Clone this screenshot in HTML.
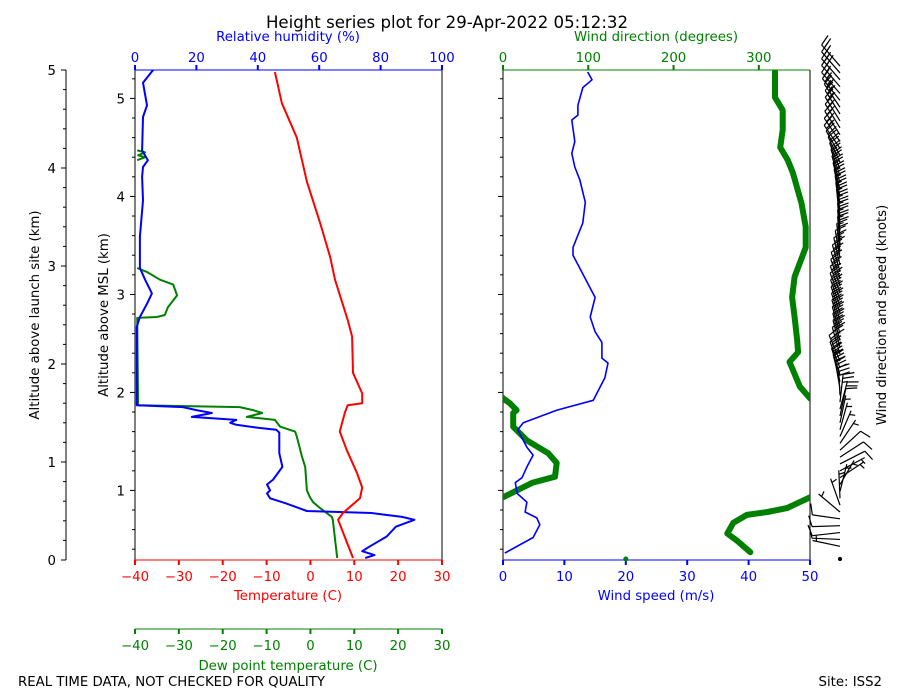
<!DOCTYPE html>
<html><head><meta charset="utf-8">
<style>
body{margin:0;background:#fff;}
svg{display:block;font-family:"DejaVu Sans","Liberation Sans",sans-serif;}
text{font-size:13.3px;}
</style></head>
<body>
<svg id="chart" width="900" height="700" viewBox="0 0 900 700">
<defs>
<clipPath id="clipL"><rect x="135" y="70" width="307" height="490"/></clipPath>
<clipPath id="clipR"><rect x="503" y="70" width="307" height="490"/></clipPath>
</defs>
<text x="447" y="28" text-anchor="middle" style="font-size:16.6px">Height series plot for 29-Apr-2022 05:12:32</text>
<text x="288" y="41" text-anchor="middle" fill="blue">Relative humidity (%)</text>
<text x="656" y="41" text-anchor="middle" fill="green">Wind direction (degrees)</text>
<text x="288" y="600" text-anchor="middle" fill="red">Temperature (C)</text>
<text x="656" y="600" text-anchor="middle" fill="blue">Wind speed (m/s)</text>
<text x="288" y="670" text-anchor="middle" fill="green">Dew point temperature (C)</text>
<text x="18" y="686">REAL TIME DATA, NOT CHECKED FOR QUALITY</text>
<text x="882" y="686" text-anchor="end">Site: ISS2</text>
<text transform="translate(39,315) rotate(-90)" text-anchor="middle">Altitude above launch site (km)</text>
<text transform="translate(108,315) rotate(-90)" text-anchor="middle">Altitude above MSL (km)</text>
<text transform="translate(886,315) rotate(-90)" text-anchor="middle">Wind direction and speed (knots)</text>
<g id="g"></g>
</svg>
<script>
// ---- data (heights in km above launch site) ----
const tempH=[0.02,0.41,0.48,0.63,0.74,0.89,1.12,1.31,1.43,1.51,1.58,1.60,1.70,1.91,2.28,2.45,2.86,3.09,3.44,3.86,4.31,4.66,4.98];
const tempV=[9.7,6.3,7.4,11.3,11.8,10.6,8.3,6.7,7.4,7.9,8.5,11.8,11.8,9.7,9.5,8.5,5.6,4.5,2.2,-0.8,-3.1,-6.5,-8.1];
const rhH=[0.02,0.05,0.09,0.13,0.24,0.34,0.41,0.44,0.48,0.50,0.58,0.63,0.68,0.71,0.77,0.82,0.95,1.09,1.22,1.30,1.33,1.35,1.38,1.40,1.43,1.46,1.50,1.53,1.56,1.58,2.38,2.48,2.62,2.72,2.86,2.98,3.30,3.67,3.91,4.01,4.08,4.18,4.52,4.64,4.87,5.0];
const rhV=[75,78,74,76,82,85,91,87,77,56,49,44,43,44,43,45,48,47,47,47,46,40,33,31,33,18.5,25,20,15.6,0.6,0.6,1.6,4,5.5,3.3,1.6,1.6,2.6,2.3,2.6,4.2,2.3,2.6,3.9,2.6,5.9];
const dewH=[0.02,0.41,0.44,0.53,0.59,0.64,0.71,0.95,1.05,1.26,1.31,1.36,1.43,1.46,1.50,1.53,1.56,1.58,2.47,2.48,2.50,2.58,2.70,2.81,2.86,2.94,2.98,null,4.08,4.11,4.13,4.16,4.18];
const dewV=[6.1,5.1,4.9,2.2,0.6,-0.1,-0.8,-1.2,-1.9,-3.1,-3.5,-6.9,-8.1,-14.5,-11.0,-13.1,-16.1,-39.3,-39.5,-35,-33.2,-32.5,-30.4,-31.3,-34.3,-37.3,-39.5,null,-39.5,-37.7,-39.3,-37.7,-39.5];
const spdH=[0.07,0.23,0.36,0.43,0.49,0.59,0.68,0.79,0.84,0.95,1.07,1.15,1.33,1.40,1.53,1.63,1.86,2.01,2.06,2.22,2.33,2.48,2.68,3.11,3.19,3.44,3.65,3.88,4.01,4.15,4.27,4.49,4.54,4.64,4.82,4.90,4.98];
const spdV=[0.3,4.9,6.0,5.5,3.6,3.9,2.3,2.0,3.1,3.9,4.9,3.9,2.4,3.3,8.8,14.7,16.6,17.1,16.1,16.1,15.0,14.2,15.0,11.4,11.4,13.0,13.4,12.5,11.7,11.2,11.7,11.2,12.2,12.2,13.0,14.5,13.8];
// direction unwrapped (values above 360 wrap past north)
const dirH=[0.08,0.20,0.27,0.38,0.46,0.49,0.53,0.64,0.79,0.85,0.99,1.09,1.22,1.36,1.50,1.53,1.60,1.65,1.77,1.94,2.02,2.12,2.24,2.48,2.68,2.89,3.19,3.40,3.64,3.95,4.08,4.21,4.39,4.59,4.72,4.98];
const dirV=[290,274,263,270,286,310,333,360,395,421,423,413,388,372,372,376,368,360,348,340,336,346,345,342,339,342,355,355,350,340,334,325,328,328,319,319];
const tempTicks=[-40,-30,-20,-10,0,10,20,30];
const rhTicks=[0,20,40,60,80,100];
const spdTicks=[0,10,20,30,40,50];
const dirTicks=[0,100,200,300];
const aglTicks=[0,1,2,3,4,5];
const mslTicks=[1,2,3,4,5];
const mslOffset=0.29;

// ---- scales ----
const yA=h=>560-98*h;
const xT=t=>135+(t+40)*307/70;
const xRH=r=>135+r*3.07;
const xS=s=>503+s*6.14;
const xD=d=>503+d*307/360;

const NS='http://www.w3.org/2000/svg';
const G=document.getElementById('g');
function mk(tag,attrs,parent){const e=document.createElementNS(NS,tag);for(const k in attrs)e.setAttribute(k,attrs[k]);(parent||G).appendChild(e);return e;}
function pathD(H,V,fx,off){let d='',pen=false;for(let i=0;i<H.length;i++){if(H[i]===null||V[i]===null){pen=false;continue;}d+=(pen?'L':'M')+fx(V[i]+(off||0)).toFixed(1)+','+yA(H[i]).toFixed(1);pen=true;}return d;}

let e;
e=mk('line',{x1:66,y1:70,x2:66,y2:560,stroke:'#000','stroke-width':1});

e=mk('line',{x1:135,y1:70,x2:135,y2:560,stroke:'#000'});

e=mk('line',{x1:442,y1:70,x2:442,y2:560,stroke:'#000'});

e=mk('line',{x1:135,y1:70,x2:442,y2:70,stroke:'blue'});

e=mk('line',{x1:135,y1:560,x2:442,y2:560,stroke:'red'});

e=mk('line',{x1:135,y1:629,x2:442,y2:629,stroke:'green'});

e=mk('line',{x1:503,y1:70,x2:503,y2:560,stroke:'#000'});

e=mk('line',{x1:810,y1:70,x2:810,y2:560,stroke:'#000'});

e=mk('line',{x1:503,y1:70,x2:810,y2:70,stroke:'green'});

e=mk('line',{x1:503,y1:560,x2:810,y2:560,stroke:'blue'});


function hTicks(vals,fx,y,dir,color,name){for(const v of vals){const x=fx(v);
 const t=mk('line',{x1:x,y1:y,x2:x,y2:y+dir*5,stroke:color,'stroke-width':2});
 
 const l=mk('text',{x:x,y:dir>0?y+21:y-8,'text-anchor':'middle',fill:color});l.textContent=String(v).replace('-','\u2212');
 }}
hTicks(tempTicks,xT,560,1,'red','temperature');
hTicks(tempTicks,xT,629,1,'green','dewpoint');
hTicks(rhTicks,xRH,70,-1,'blue','rh');
hTicks(spdTicks,xS,560,1,'blue','wind-speed');
hTicks(dirTicks,xD,70,-1,'green','wind-direction');

for(const v of aglTicks){const y=yA(v);
 const t=mk('line',{x1:61,y1:y,x2:66,y2:y,stroke:'#000'});
 const l=mk('text',{x:56,y:y+5,'text-anchor':'end'});l.textContent=v;}
for(let k=1;k<25;k++){if(k%5===0)continue;const y=yA(k*0.2);
 const t=mk('line',{x1:63,y1:y,x2:66,y2:y,stroke:'#000'});}
for(const v of mslTicks){const y=yA(v-mslOffset);
 for(const x0 of [135,503]){const t=mk('line',{x1:x0-5,y1:y,x2:x0,y2:y,stroke:'#000'});}
 const l=mk('text',{x:125,y:y+5,'text-anchor':'end'});l.textContent=v;}
for(let k=2;k<27;k++){if(k%5===0)continue;const y=yA(k*0.2-mslOffset);if(y>560||y<70)continue;
 for(const x0 of [135,503]){const t=mk('line',{x1:x0-3,y1:y,x2:x0,y2:y,stroke:'#000'});}}

const gl=mk('g',{'clip-path':'url(#clipL)'});
e=mk('path',{d:pathD(dewH,dewV,xT),fill:'none',stroke:'green','stroke-width':2,'stroke-linejoin':'round'},gl);

e=mk('path',{d:pathD(rhH,rhV,xRH),fill:'none',stroke:'blue','stroke-width':2,'stroke-linejoin':'round'},gl);

e=mk('path',{d:pathD(tempH,tempV,xT),fill:'none',stroke:'red','stroke-width':2,'stroke-linejoin':'round'},gl);

const gr=mk('g',{'clip-path':'url(#clipR)'});
e=mk('path',{d:pathD(dirH,dirV,xD,0),fill:'none',stroke:'green','stroke-width':6,'stroke-linejoin':'round','stroke-linecap':'round'},gr);

e=mk('path',{d:pathD(dirH,dirV,xD,-360),fill:'none',stroke:'green','stroke-width':6,'stroke-linejoin':'round','stroke-linecap':'round'},gr);

e=mk('path',{d:pathD(spdH,spdV,xS),fill:'none',stroke:'blue','stroke-width':1.6,'stroke-linejoin':'round'},gr);

e=mk('circle',{cx:xS(20),cy:559,r:2.5,fill:'green'});


function interp(H,V,h){if(h<=H[0])return V[0];for(let i=1;i<H.length;i++){if(h<=H[i]){const f=(h-H[i-1])/(H[i]-H[i-1]);return V[i-1]+f*(V[i]-V[i-1]);}}return V[V.length-1];}
const gb=mk('g',{stroke:'#000','stroke-width':1.2,fill:'none'});
e=mk('circle',{cx:840,cy:559,r:1.5,fill:'#000'},gb);

for(let h=0.14;h<=5.1;h+=0.07){
 const kt=Math.round(interp(spdH,spdV,h)*1.944/5)*5;const d=interp(dirH,dirV,h)*Math.PI/180;
 const bx=840,by=yA(h),L=28;const ux=Math.sin(d),uy=-Math.cos(d);const px=-uy,py=ux;
 let s='M'+bx+','+by+'L'+(bx+ux*L).toFixed(1)+','+(by+uy*L).toFixed(1);
 let rem=kt,pos=L;
 while(rem>=50){s+='M'+(bx+ux*pos)+','+(by+uy*pos)+'L'+(bx+ux*(pos-4)+px*11)+','+(by+uy*(pos-4)+py*11)+'L'+(bx+ux*(pos-8))+','+(by+uy*(pos-8));pos-=10;rem-=50;}
 while(rem>=10){s+='M'+(bx+ux*pos).toFixed(1)+','+(by+uy*pos).toFixed(1)+'L'+(bx+ux*(pos+3)+px*11).toFixed(1)+','+(by+uy*(pos+3)+py*11).toFixed(1);pos-=4;rem-=10;}
 if(rem>=5){if(pos===L)pos-=4;s+='M'+(bx+ux*pos).toFixed(1)+','+(by+uy*pos).toFixed(1)+'L'+(bx+ux*(pos+1.5)+px*5.5).toFixed(1)+','+(by+uy*(pos+1.5)+py*5.5).toFixed(1);}
 const b=mk('path',{d:s},gb);
 
 
}
</script>
</body></html>
